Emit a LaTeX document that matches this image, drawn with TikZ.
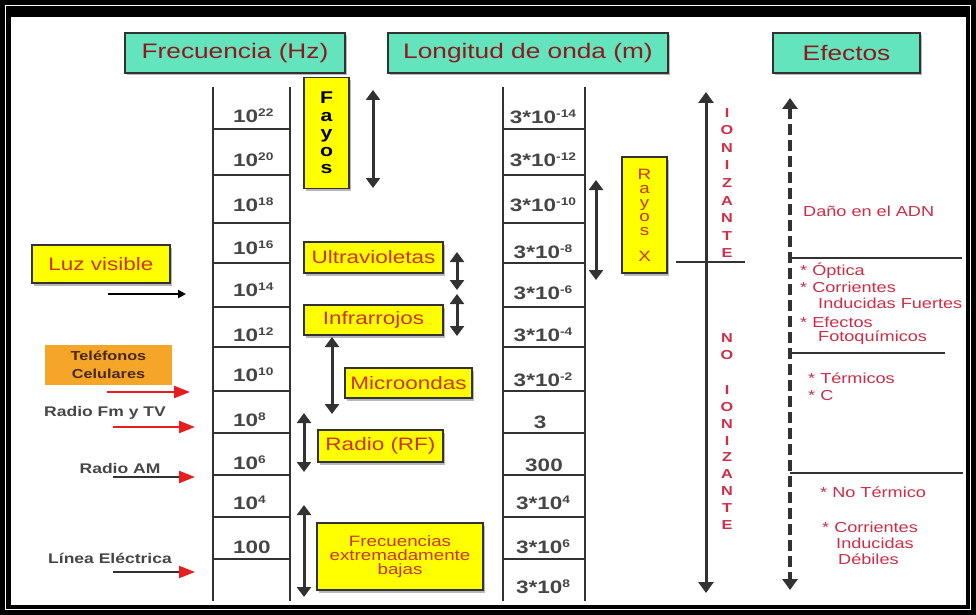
\documentclass[tikz,border=0pt]{standalone}
\usepackage{fontspec}
\setmainfont{Liberation Sans}[FakeStretch=1.25]
\usetikzlibrary{arrows.meta,shadows}
\definecolor{teal1}{RGB}{100,228,188}
\definecolor{hdr}{RGB}{140,25,30}
\definecolor{ylw}{RGB}{255,255,0}
\definecolor{org}{RGB}{245,165,40}
\definecolor{rtxt}{RGB}{205,50,20}
\definecolor{efx}{RGB}{205,45,70}
\definecolor{dg}{RGB}{50,50,50}
\definecolor{lbl}{RGB}{70,70,70}
\definecolor{arrred}{RGB}{230,30,30}
\newcommand{\sps}[1]{\raisebox{0.35em}{\fontsize{11}{11}\selectfont #1}}
\newcommand{\fs}[2]{\fontsize{#1}{#2}\selectfont}
\begin{document}
\begin{tikzpicture}[x=1pt,y=-1pt,
  shad/.style={drop shadow={shadow xshift=1.5pt,shadow yshift=-2.5pt,fill=black!55}},
  hdrbox/.style={shad,draw=dg,line width=1.2pt,fill=teal1,text=hdr,minimum height=40pt,inner sep=0pt,font=\fs{21}{23}},
  ybox/.style={shad,draw=dg,line width=1.6pt,fill=ylw,text=rtxt,inner sep=0pt,align=center,font=\fs{18}{20}},
  lab/.style={text=lbl,font=\bfseries\fs{18}{20},inner sep=0pt},
  rail/.style={draw=dg,line width=2.2pt},
  rung/.style={draw=dg,line width=2.4pt},
  dar/.style={draw=dg,line width=3pt,arrows={Triangle[width=14pt,length=10pt]-Triangle[width=14pt,length=10pt]}},
  bigar/.style={draw=dg,line width=3pt,arrows={Triangle[width=15pt,length=11pt]-Triangle[width=15pt,length=11pt]}},
  sep/.style={draw=dg,line width=2.6pt},
  eff/.style={text=efx,font=\fs{14.5}{16},inner sep=0pt,anchor=west},
  vlet/.style={text=efx,font=\bfseries\fs{13}{17.6},align=center,inner sep=0pt},
  side/.style={text=lbl,font=\bfseries\fs{14}{16},inner sep=0pt},
  rarr/.style={draw=arrred,line width=2.2pt,-{Triangle[width=12pt,length=16pt]}},
  garr/.style={draw=dg,line width=2.2pt,-{Triangle[width=12pt,length=16pt,color=arrred]}},
  karr/.style={draw=black,line width=2pt,-{Triangle[width=8pt,length=8pt]}}
]
\useasboundingbox (0,0) rectangle (976,615);
% frame
\fill[black] (0,0) rectangle (976,615);
\draw[white,line width=1.2pt] (5.5,5.5) rectangle (970.5,609.5);
\fill[white] (11,17) rectangle (966,605);

% headers
\node[hdrbox,minimum width=220pt] (hF) at (235,53) {Frecuencia (Hz)};
\node[hdrbox,minimum width=280pt] (hL) at (528,53) {Longitud de onda (m)};
\node[hdrbox,minimum width=147pt] (hE) at (846.5,53) {Efectos};

% ladders
\foreach \x in {213,290,503,585} \draw[rail] (\x,87) -- (\x,601);
\foreach \y in {129,175,223,263,307,347,391,433,475,517,559} {
  \draw[rung] (213,\y) -- (290,\y);
  \draw[rung] (503,\y) -- (585,\y);
}

% frequency labels
\node[lab,anchor=base west] (f22) at (233,123) {10\sps{22}};
\node[lab,anchor=base west] (f20) at (233,166.5) {10\sps{20}};
\node[lab,anchor=base west] (f18) at (233,211.5) {10\sps{18}};
\node[lab,anchor=base west] (f16) at (233,254.5) {10\sps{16}};
\node[lab,anchor=base west] (f14) at (233,296.5) {10\sps{14}};
\node[lab,anchor=base west] (f12) at (233,341.5) {10\sps{12}};
\node[lab,anchor=base west] (f10) at (233,381.5) {10\sps{10}};
\node[lab,anchor=base west] (f8) at (233,426.5) {10\sps{8}};
\node[lab,anchor=base west] (f6) at (233,469.5) {10\sps{6}};
\node[lab,anchor=base west] (f4) at (233,509.5) {10\sps{4}};
\node[lab,anchor=base west] (f2) at (233,553.5) {100};

% wavelength labels
\node[lab,anchor=base] (w14) at (543,123.5) {3*10\sps{-14}};
\node[lab,anchor=base] (w12) at (543,166.5) {3*10\sps{-12}};
\node[lab,anchor=base] (w10) at (543,211.5) {3*10\sps{-10}};
\node[lab,anchor=base] (w8) at (543,258.5) {3*10\sps{-8}};
\node[lab,anchor=base] (w6) at (543,299.5) {3*10\sps{-6}};
\node[lab,anchor=base] (w4) at (543,341.5) {3*10\sps{-4}};
\node[lab,anchor=base] (w2) at (543,386.5) {3*10\sps{-2}};
\node[lab,anchor=base] (w0) at (540,428.5) {3};
\node[lab,anchor=base] (wA) at (544,471.5) {300};
\node[lab,anchor=base] (wB) at (543,509.5) {3*10\sps{4}};
\node[lab,anchor=base] (wC) at (543,553.5) {3*10\sps{6}};
\node[lab,anchor=base] (wD) at (543,593.5) {3*10\sps{8}};

% yellow boxes
\node[ybox,minimum width=45pt,minimum height=111pt,text=black,font=\bfseries\fs{17}{17.5}] (fayos) at (326.5,133) {F\\a\\y\\o\\s};
\node[ybox,minimum width=139pt,minimum height=31pt] (uv) at (373.5,257.5) {Ultravioletas};
\node[ybox,minimum width=139pt,minimum height=30pt] (ir) at (373.5,320) {Infrarrojos};
\node[ybox,minimum width=127pt,minimum height=30pt] (mw) at (408.5,383) {Microondas};
\node[ybox,minimum width=125pt,minimum height=32pt] (rf) at (380.5,446) {Radio (RF)};
\node[ybox,minimum width=166pt,minimum height=67pt,font=\fs{15}{14}] (elf) at (400,556.5) {Frecuencias\\extremadamente\\bajas};
\node[ybox,minimum width=45pt,minimum height=116pt,font=\fs{15}{14},text=rtxt] (rx) at (644.5,215) {R\\a\\y\\o\\s\\[12pt]X};
\node[ybox,minimum width=138pt,minimum height=38pt] (luz) at (101,264) {Luz visible};
\node[fill=org,minimum width=127pt,minimum height=40pt,inner sep=0pt,align=center,text={rgb,255:red,70;green,40;blue,20},font=\bfseries\fs{13}{18}] (tel) at (108.5,365) {Teléfonos\\Celulares};

% double arrows
\coordinate (aF1) at (373,90);   \coordinate (aF2) at (373,188);
\coordinate (aU1) at (457,252);  \coordinate (aU2) at (457,290);
\coordinate (aI1) at (457,294);  \coordinate (aI2) at (457,336);
\coordinate (aM1) at (332,337);  \coordinate (aM2) at (332,414);
\coordinate (aR1) at (304,413);  \coordinate (aR2) at (304,472);
\coordinate (aE1) at (304,505);  \coordinate (aE2) at (304,597);
\coordinate (aX1) at (596,180);  \coordinate (aX2) at (596,280);
\draw[dar] (aF1) -- (aF2);
\draw[dar] (aU1) -- (aU2);
\draw[dar] (aI1) -- (aI2);
\draw[dar] (aM1) -- (aM2);
\draw[dar] (aR1) -- (aR2);
\draw[dar] (aE1) -- (aE2);
\draw[dar] (aX1) -- (aX2);

% ionizante axis
\coordinate (ion1) at (706,92); \coordinate (ion2) at (706,593);
\draw[bigar] (ion1) -- (ion2);
\coordinate (ih1) at (676,262); \coordinate (ih2) at (745,262);
\draw[sep] (ih1) -- (ih2);
\node[vlet] (ioniz) at (727,183) {I\\O\\N\\I\\Z\\A\\N\\T\\E};
\node[vlet,font=\bfseries\fs{13}{17}] (nno) at (727,346.5) {N\\O};
\node[vlet,font=\bfseries\fs{13}{16.9}] (nioniz) at (727,457.5) {I\\O\\N\\I\\Z\\A\\N\\T\\E};

% effects axis
\coordinate (ef1) at (790,98); \coordinate (ef2) at (790,590);
\draw[bigar,line width=4pt,dash pattern=on 11pt off 5pt] (ef1) -- (ef2);
\coordinate (s1a) at (790,258); \coordinate (s1b) at (962,258);
\coordinate (s2a) at (790,353); \coordinate (s2b) at (945,353);
\coordinate (s3a) at (790,473); \coordinate (s3b) at (963,473);
\draw[sep] (s1a) -- (s1b);
\draw[sep] (s2a) -- (s2b);
\draw[sep] (s3a) -- (s3b);

\node[eff] (e1) at (803,211) {Daño en el ADN};
\node[eff] (e2) at (800,271) {* Óptica};
\node[eff] (e3) at (800,287) {* Corrientes};
\node[eff] (e4) at (818,303) {Inducidas Fuertes};
\node[eff] (e5) at (800,322) {* Efectos};
\node[eff] (e6) at (818,338) {Fotoquímicos};
\node[eff] (e7) at (808,378) {* Térmicos};
\node[eff] (e8) at (808,396) {* C};
\node[eff] (e9) at (820,492) {* No Térmico};
\node[eff] (e10) at (822,527) {* Corrientes};
\node[eff] (e11) at (836,543) {Inducidas};
\node[eff] (e12) at (838,559) {Débiles};

% left side labels
\node[side] (fm) at (105,413) {Radio Fm y TV};
\node[side] (am) at (120,468) {Radio AM};
\node[side] (lin) at (110,558) {Línea Eléctrica};

\coordinate (l1a) at (108,294); \coordinate (l1b) at (186,294);
\coordinate (l2a) at (107,392); \coordinate (l2b) at (190,392);
\coordinate (l3a) at (113,427); \coordinate (l3b) at (195,427);
\coordinate (l4a) at (113,477); \coordinate (l4b) at (195,477);
\coordinate (l5a) at (113,572); \coordinate (l5b) at (195,572);
\draw[karr] (l1a) -- (l1b);
\draw[rarr] (l2a) -- (l2b);
\draw[rarr] (l3a) -- (l3b);
\draw[garr] (l4a) -- (l4b);
\draw[garr] (l5a) -- (l5b);
\end{tikzpicture}
\end{document}
